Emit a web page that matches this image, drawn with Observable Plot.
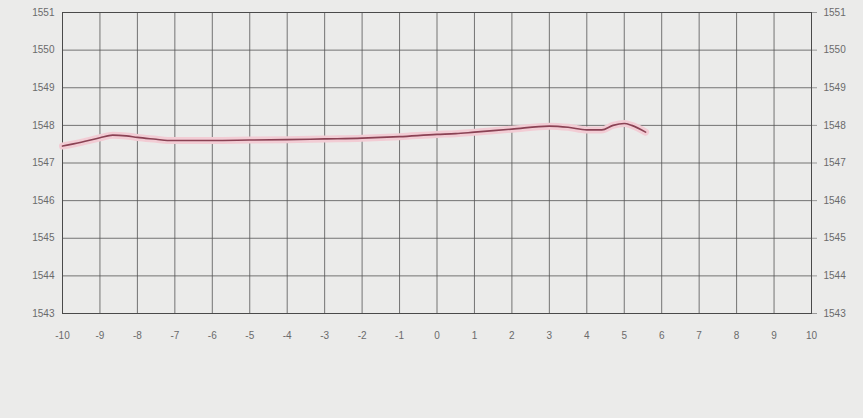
<!DOCTYPE html>
<html>
<head>
<meta charset="utf-8">
<script src="https://cdn.jsdelivr.net/npm/d3@7"></script>
<script src="https://cdn.jsdelivr.net/npm/@observablehq/plot@0.6"></script>
<style>
  html, body { margin: 0; padding: 0; background: #ebebea; }
  #chart svg { display: block; background: #ebebea; }
</style>
</head>
<body>
<div id="chart"></div>
<script>
const xVals = [-10, -9.5, -9, -8.66, -8.3, -8, -7.5, -7.2, -6, -5, -4, -3, -2, -1, 0, 0.5, 1, 2, 3, 3.5, 4, 4.4, 4.7, 5, 5.2, 5.57];
const yVals = [1547.45, 1547.55, 1547.67, 1547.74, 1547.72, 1547.68, 1547.63, 1547.6, 1547.6, 1547.61, 1547.62, 1547.64, 1547.66, 1547.7, 1547.76, 1547.78, 1547.82, 1547.9, 1547.98, 1547.95, 1547.88, 1547.88, 1548.0, 1548.05, 1548.0, 1547.82];
const xTicks = [-10, -9, -8, -7, -6, -5, -4, -3, -2, -1, 0, 1, 2, 3, 4, 5, 6, 7, 8, 9, 10];
const yTicks = [1543, 1544, 1545, 1546, 1547, 1548, 1549, 1550, 1551];

const data = xVals.map((x, i) => ({x, y: yVals[i]}));
const fmt = d => String(d);

const chart = Plot.plot({
  width: 863,
  height: 418,
  marginLeft: 62,
  marginRight: 52,
  marginTop: 12,
  marginBottom: 105,
  style: {fontFamily: "'Liberation Sans', sans-serif", fontSize: "10px", background: "#ebebea"},
  x: {domain: [-10, 10]},
  y: {domain: [1543, 1551]},
  marks: [
    Plot.gridX(xTicks, {stroke: "#555", strokeOpacity: 0.8, strokeWidth: 1}),
    Plot.gridY(yTicks, {stroke: "#555", strokeOpacity: 0.8, strokeWidth: 1}),
    Plot.frame({stroke: "#4a4a4a", strokeWidth: 1}),
    Plot.line(data, {x: "x", y: "y", stroke: "#f2ccd4", strokeWidth: 7, curve: "monotone-x"}),
    Plot.line(data, {x: "x", y: "y", stroke: "#8a4254", strokeWidth: 1.6, curve: "monotone-x"}),
    Plot.axisX(xTicks, {anchor: "bottom", tickSize: 0, tickPadding: 18, fill: "#6a6a6a", label: null, tickFormat: fmt}),
    Plot.axisY(yTicks, {anchor: "left", tickSize: 0, tickPadding: 8, fill: "#6a6a6a", label: null, tickFormat: fmt}),
    Plot.axisY(yTicks, {anchor: "right", tickSize: 5, tickPadding: 7, stroke: "#999", fill: "#6a6a6a", label: null, tickFormat: fmt})
  ]
});
document.getElementById("chart").appendChild(chart);
</script>
</body>
</html>
